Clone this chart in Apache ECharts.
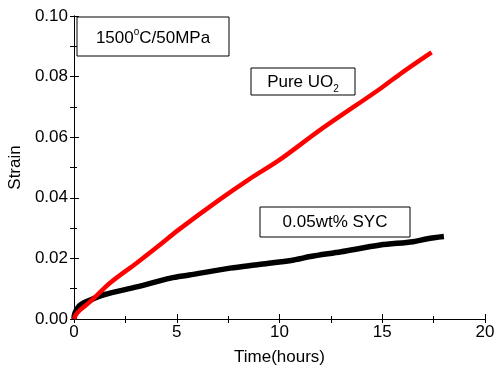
<!DOCTYPE html>
<html>
<head>
<meta charset="utf-8">
<script src="https://cdn.jsdelivr.net/npm/echarts@6/dist/echarts.min.js"></script>
<style>
  html, body { margin: 0; padding: 0; background: #fff; }
  #main { width: 497px; height: 378px; }
</style>
</head>
<body>
<div id="main"></div>
<script>
// values
var uo2Time = [0, 0.1, 0.3, 0.8, 1.75, 3.05, 4, 5.1, 7, 8.5, 10, 12, 14.9, 16, 17.4]
var uo2Strain = [0, 0.0015, 0.003, 0.0058, 0.0119, 0.0185, 0.0235, 0.0295, 0.039, 0.046, 0.0525, 0.0625, 0.076, 0.0815, 0.088]
var sycTime = [0, 0.05, 0.3, 0.8, 1.45, 3.05, 4.7, 5.6, 7.6, 9, 10.7, 11.5, 13, 14.9, 16.5, 17.2, 18]
var sycStrain = [0, 0.002, 0.0046, 0.0063, 0.008, 0.0106, 0.0135, 0.0145, 0.0168, 0.018, 0.0195, 0.0206, 0.0222, 0.0244, 0.0255, 0.0265, 0.0272]

function pairs(xs, ys) {
  return xs.map(function(x, i) { return [x, ys[i]] })
}

var font = 'Liberation Sans, Arial, sans-serif'
var chart = echarts.init(document.getElementById('main'))

var option = {
  animation: false,
  backgroundColor: '#fff',
  textStyle: { fontFamily: font },
  grid: { left: 74, right: 12, top: 16, bottom: 59, containLabel: false, outerBoundsMode: 'none' },
  xAxis: [
    {
      type: 'value', min: 0, max: 20, interval: 5,
      name: 'Time(hours)', nameLocation: 'middle', nameGap: 30,
      nameTextStyle: { fontSize: 17, color: '#000', fontFamily: font },
      axisLine: { lineStyle: { color: '#000', width: 1 } },
      axisTick: { inside: true, length: 5, lineStyle: { color: '#000' } },
      minorTick: { show: true, splitNumber: 2, length: 3, lineStyle: { color: '#000' } },
      axisLabel: { fontSize: 17, color: '#000', margin: 5, fontFamily: font },
      splitLine: { show: false }
    },
    {
      type: 'value', position: 'top', min: 0, max: 20, interval: 2.5,
      axisLine: { lineStyle: { color: '#000', width: 1 } },
      axisTick: { inside: true, length: 4, lineStyle: { color: '#000' } },
      axisLabel: { show: false },
      splitLine: { show: false }
    }
  ],
  yAxis: [
    {
      type: 'value', min: 0, max: 0.1, interval: 0.02,
      name: 'Strain', nameLocation: 'middle', nameGap: 48,
      nameTextStyle: { fontSize: 17, color: '#000', fontFamily: font },
      axisLine: { show: true, lineStyle: { color: '#000', width: 1 } },
      axisTick: { show: true, inside: true, length: 5, lineStyle: { color: '#000' } },
      minorTick: { show: true, splitNumber: 2, length: 3, lineStyle: { color: '#000' } },
      axisLabel: {
        fontSize: 17, color: '#000', margin: 6, fontFamily: font,
        formatter: function(v) { return v.toFixed(2) }
      },
      splitLine: { show: false }
    },
    {
      type: 'value', position: 'right', min: 0, max: 0.1, interval: 0.01,
      axisLine: { show: true, lineStyle: { color: '#000', width: 1 } },
      axisTick: { show: true, inside: true, length: 4, lineStyle: { color: '#000' } },
      axisLabel: { show: false },
      splitLine: { show: false }
    }
  ],
  series: [
    {
      name: '0.05wt% SYC', type: 'line', smooth: 0.3, showSymbol: false,
      data: pairs(sycTime, sycStrain),
      lineStyle: { color: '#000', width: 5.5 }
    },
    {
      name: 'Pure UO2', type: 'line', smooth: 0.3, showSymbol: false,
      data: pairs(uo2Time, uo2Strain),
      lineStyle: { color: '#ff0000', width: 4.5 }
    }
  ],
  graphic: [
    {
      type: 'rect', shape: { x: 77, y: 17, width: 152, height: 39 },
      style: { fill: '#fff', stroke: '#000', lineWidth: 1 }
    },
    {
      type: 'text', x: 153, y: 38,
      style: {
        text: '1500{sup|o}C/50MPa',
        rich: { sup: { fontSize: 10, verticalAlign: 'top', padding: [0, 0, 12, 0] } },
        fontSize: 17, fontFamily: font, fill: '#000', align: 'center', verticalAlign: 'middle'
      }
    },
    {
      type: 'rect', shape: { x: 251, y: 68, width: 104, height: 27 },
      style: { fill: '#fff', stroke: '#000', lineWidth: 1 }
    },
    {
      type: 'text', x: 303, y: 82,
      style: {
        text: 'Pure UO{sub|2}',
        rich: { sub: { fontSize: 10, padding: [14, 0, 0, 0] } },
        fontSize: 17, fontFamily: font, fill: '#000', align: 'center', verticalAlign: 'middle'
      }
    },
    {
      type: 'rect', shape: { x: 260, y: 207, width: 150, height: 30 },
      style: { fill: '#fff', stroke: '#000', lineWidth: 1 }
    },
    {
      type: 'text', x: 335, y: 222,
      style: {
        text: '0.05wt% SYC',
        fontSize: 17, fontFamily: font, fill: '#000', align: 'center', verticalAlign: 'middle'
      }
    }
  ]
}
chart.setOption(option)
</script>
</body>
</html>
